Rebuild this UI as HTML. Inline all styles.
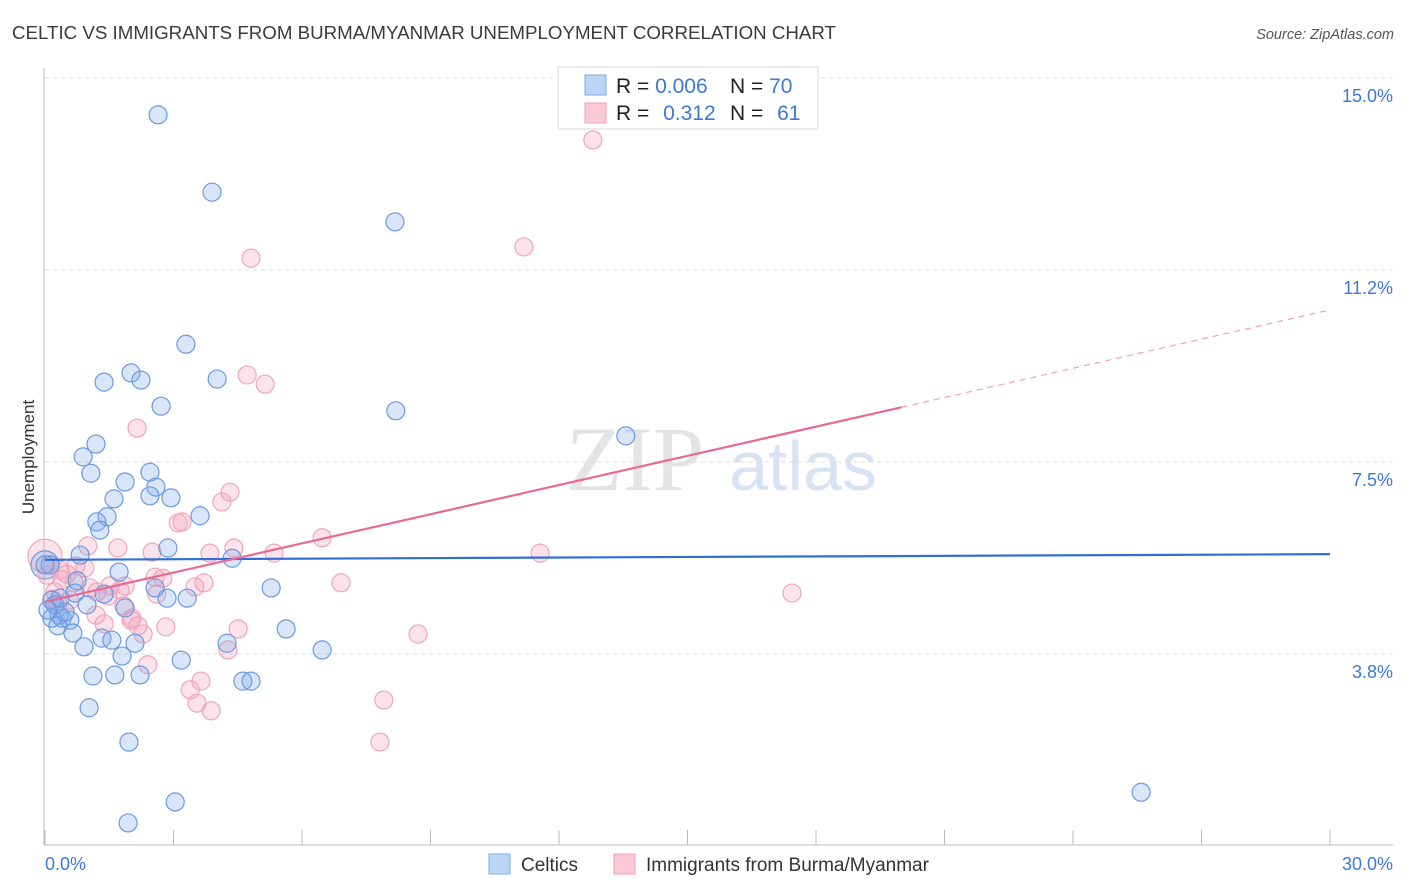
<!DOCTYPE html>
<html><head><meta charset="utf-8"><style>
body{margin:0;background:#fff;font-family:"Liberation Sans",sans-serif;}
svg{display:block}
</style></head><body>
<svg id="chart" width="1406" height="892" xmlns="http://www.w3.org/2000/svg">
<text x="12" y="39" font-size="18" fill="#3a3a3a" textLength="824" lengthAdjust="spacingAndGlyphs">CELTIC VS IMMIGRANTS FROM BURMA/MYANMAR UNEMPLOYMENT CORRELATION CHART</text>
<text x="1394" y="39" font-size="14.5" fill="#555" font-style="italic" text-anchor="end">Source: ZipAtlas.com</text>
<text x="635" y="490" font-size="92" fill="#e4e4e4" font-family="Liberation Serif,serif" text-anchor="middle">ZIP</text>
<text x="803" y="490" font-size="70" fill="#d6e3f5" text-anchor="middle">atlas</text>
<text transform="translate(34,457) rotate(-90)" font-size="17" fill="#333" text-anchor="middle">Unemployment</text>
<g id="grid"></g><g id="ticks"></g><g id="marks"></g><g id="lines"></g>
<g>
<rect x="558" y="67" width="260" height="62" fill="#fff" stroke="#d8d8d8"/>
<rect x="585" y="75" width="21" height="20" fill="#bcd4f5" stroke="#7fa8e6"/>
<rect x="585" y="103" width="21" height="20" fill="#fcc9d7" stroke="#f0a0b8"/>
<text x="616" y="93" font-size="21" fill="#222">R = <tspan fill="#3f78d4">0.006</tspan></text>
<text x="730" y="93" font-size="21" fill="#222">N = <tspan fill="#3f78d4">70</tspan></text>
<text x="616" y="120" font-size="21" fill="#222">R = <tspan fill="#3f78d4" dx="8">0.312</tspan></text>
<text x="730" y="120" font-size="21" fill="#222">N = <tspan fill="#3f78d4" dx="8">61</tspan></text>
</g>
<g>
<rect x="489" y="854" width="21" height="20" fill="#bcd4f5" stroke="#7fa8e6"/>
<text x="521" y="871" font-size="19" fill="#333">Celtics</text>
<rect x="614" y="854" width="21" height="20" fill="#fcc9d7" stroke="#f0a0b8"/>
<text x="646" y="871" font-size="19" fill="#333">Immigrants from Burma/Myanmar</text>
</g>
</svg>
<script>
const yTicks=[3.75,7.5,11.25,15];
const yTickLabels=["3.8%","7.5%","11.2%","15.0%"];
const xTickLabels=["0.0%","30.0%"];
const blueX=[2.64,3.90,8.17,3.29,1.38,2.01,2.24,4.02,2.71,8.19,13.56,1.19,0.89,1.07,2.45,1.87,2.59,1.61,2.45,2.94,3.62,1.45,1.21,1.28,2.87,0.82,4.37,0.12,1.73,0.75,2.57,5.28,2.85,3.32,0.70,1.38,0.16,0.98,1.87,0.33,0.16,0.40,0.58,0.30,0.65,5.63,1.33,1.56,2.10,4.25,0.91,6.47,3.18,1.80,1.12,1.63,2.22,4.62,4.81,1.03,1.96,3.04,1.94,25.59,0.23,0.47,0.07,0.35,0];
const blueY=[14.28,12.77,12.19,9.80,9.06,9.24,9.10,9.12,8.59,8.50,8.01,7.85,7.60,7.28,7.30,7.11,7.01,6.78,6.84,6.80,6.45,6.43,6.33,6.17,5.82,5.68,5.62,5.49,5.35,5.18,5.04,5.04,4.84,4.84,4.94,4.92,4.80,4.71,4.65,4.51,4.45,4.45,4.41,4.30,4.16,4.24,4.06,4.02,3.96,3.96,3.89,3.83,3.63,3.71,3.32,3.34,3.34,3.22,3.22,2.70,2.03,0.86,0.45,1.05,4.71,4.57,4.61,4.84,5.49];
const pinkX=[12.79,11.18,4.81,4.72,5.14,2.15,4.32,4.13,3.20,3.11,6.47,1.00,1.70,2.50,3.85,4.41,5.35,11.56,0.93,0.72,0.51,0.40,2.57,2.75,0.68,6.91,3.71,3.50,1.05,1.52,1.87,1.21,17.44,2.61,1.47,0.23,0.16,0.30,1.84,1.19,2.01,2.17,1.38,2.82,2.29,4.51,8.71,4.27,2.40,3.64,3.39,3.55,3.88,7.91,7.82,0.05,0.58,2.03,1.75,0.35];
const pinkY=[13.79,11.70,11.48,9.20,9.02,8.16,6.91,6.72,6.33,6.31,6.02,5.86,5.82,5.74,5.72,5.82,5.72,5.72,5.43,5.47,5.31,5.20,5.25,5.23,5.14,5.14,5.14,5.06,5.04,5.08,5.08,4.96,4.94,4.92,4.88,4.96,4.82,4.73,4.69,4.51,4.41,4.30,4.34,4.28,4.14,4.24,4.14,3.83,3.54,3.22,3.05,2.79,2.64,2.85,2.03,5.29,4.80,4.45,5.00,5.39];
const bigBlue=[0,5.49];
const bigPink=[0,5.66];
const blueFit=[5.59,5.70];
const pinkFit=[4.77,10.47];
const X=v=>45+v/30*1285, Y=v=>846-v/15*768;
const NS="http://www.w3.org/2000/svg";
function mk(t,a,p){const e=document.createElementNS(NS,t);for(const k in a)e.setAttribute(k,a[k]);document.getElementById(p).appendChild(e);return e;}
yTicks.forEach((t,i)=>{
 const g=mk('line',{x1:45,x2:1393,y1:Y(t),y2:Y(t),stroke:'#dcdcdc','stroke-dasharray':'4,4'},'grid');
 
 
 const l=mk('text',{x:1393,y:Y(t)+24,'font-size':18,fill:'#3f78d4','text-anchor':'end'},'ticks');
 l.textContent=yTickLabels[i];
 
 
});
const ax=mk('line',{x1:45,x2:1393,y1:845,y2:845,stroke:'#bbb'},'grid');


const ay=mk('line',{x1:44,x2:44,y1:68,y2:845,stroke:'#bbb'},'grid');


for(let i=0;i<=10;i++){const t=mk('line',{x1:X(i*3),x2:X(i*3),y1:830,y2:845,stroke:'#bbb'},'grid');
 
 }
[[0,'start',45],[30,'end',1393]].forEach((d,i)=>{const l=mk('text',{x:d[2],y:870,'font-size':18,fill:'#3f78d4','text-anchor':d[1]},'ticks');
 l.textContent=xTickLabels[i];
 
 });
function dot(x,y,r,blue){const c=mk('circle',{cx:X(x),cy:Y(y),r:r,fill:blue?'rgba(130,170,235,0.3)':'rgba(245,160,185,0.3)',stroke:blue?'#6b9ae0':'#f0a5bc','stroke-width':1.2},'marks');return c;}
const pb=dot(bigPink[0],bigPink[1],17,false);


const bb=dot(bigBlue[0],bigBlue[1],14,true);


pinkX.forEach((x,i)=>{const c=dot(x,pinkY[i],9,false);
 
 });
blueX.forEach((x,i)=>{const c=dot(x,blueY[i],9,true);
 
 });
const bl=mk('line',{x1:X(0),y1:Y(blueFit[0]),x2:X(30),y2:Y(blueFit[1]),stroke:'#2f6fd6','stroke-width':2.2},'lines');


const pAt=x=>pinkFit[0]+(pinkFit[1]-pinkFit[0])*x/30;
const pl=mk('line',{x1:X(0),y1:Y(pAt(0)),x2:X(20),y2:Y(pAt(20)),stroke:'#e86a93','stroke-width':2.2},'lines');


const pd=mk('line',{x1:X(20),y1:Y(pAt(20)),x2:X(30),y2:Y(pAt(30)),stroke:'#f0a0b8','stroke-width':1.2,'stroke-dasharray':'6,5'},'lines');


</script>
</body></html>
